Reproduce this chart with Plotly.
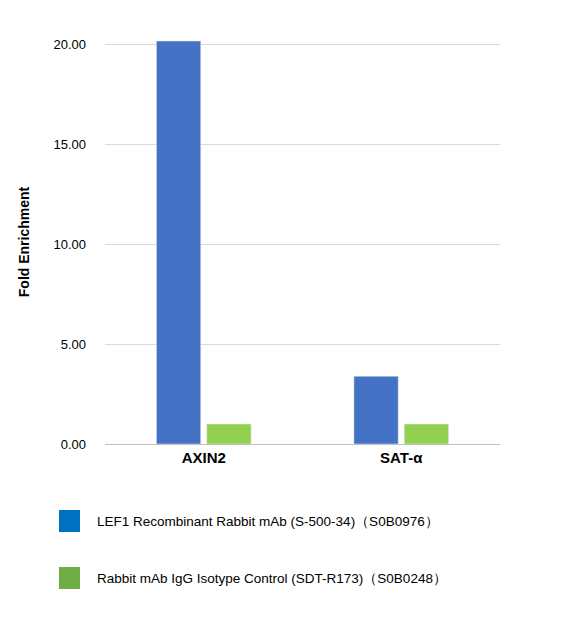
import plotly.graph_objects as go

categories = ["AXIN2", "SAT-α"]
lef1_values = [20.15, 3.39]
igg_values = [1.0, 1.0]
series_names = ["LEF1 Recombinant Rabbit mAb (S-500-34)（S0B0976）",
                "Rabbit mAb IgG Isotype Control (SDT-R173)（S0B0248）"]
tick_vals = [0, 5, 10, 15, 20]

fig = go.Figure()
fig.add_bar(x=categories, y=lef1_values, name=series_names[0], marker_color="#4472C4")
fig.add_bar(x=categories, y=igg_values, name=series_names[1], marker_color="#92D050")

fig.update_layout(
    width=567, height=626, plot_bgcolor="white", paper_bgcolor="white",
    margin=dict(l=97, r=75, t=32, b=190),
    barmode="group", bargap=0.49, bargroupgap=0.12, showlegend=False,
    font=dict(family="Liberation Sans, Arial", color="black"),
    xaxis=dict(showline=True, linecolor="#BFBFBF", ticks="", tickfont=dict(size=15, color="black"),
               tickangle=0, tickprefix="<b>", ticksuffix="</b>"),
    yaxis=dict(range=[0, 20.2], tickvals=tick_vals, tickformat=".2f", showgrid=True, gridcolor="#D9D9D9",
               zeroline=False, tickfont=dict(size=13), ticklabelstandoff=18,
               tickprefix="<b>", ticksuffix="</b>",
               title=dict(text="<b>Fold Enrichment</b>", font=dict(size=14), standoff=20)),
)

legend_colors = ["#0070C0", "#70AD47"]
legend_y = [521, 578]
for name, col, yc in zip(series_names, legend_colors, legend_y):
    fig.add_shape(type="rect", xref="paper", yref="paper",
                  x0=(51-97)/395, x1=(72-97)/395,
                  y0=(436-(yc+3))/404, y1=(436-(yc-19))/404,
                  fillcolor=col, line_width=0)
    fig.add_annotation(xref="paper", yref="paper", x=(87-97)/395, y=(436-(yc-8))/404,
                       text=name, showarrow=False, xanchor="left", yanchor="middle",
                       font=dict(size=13.5, color="black"))

fig.write_html("out.html")
